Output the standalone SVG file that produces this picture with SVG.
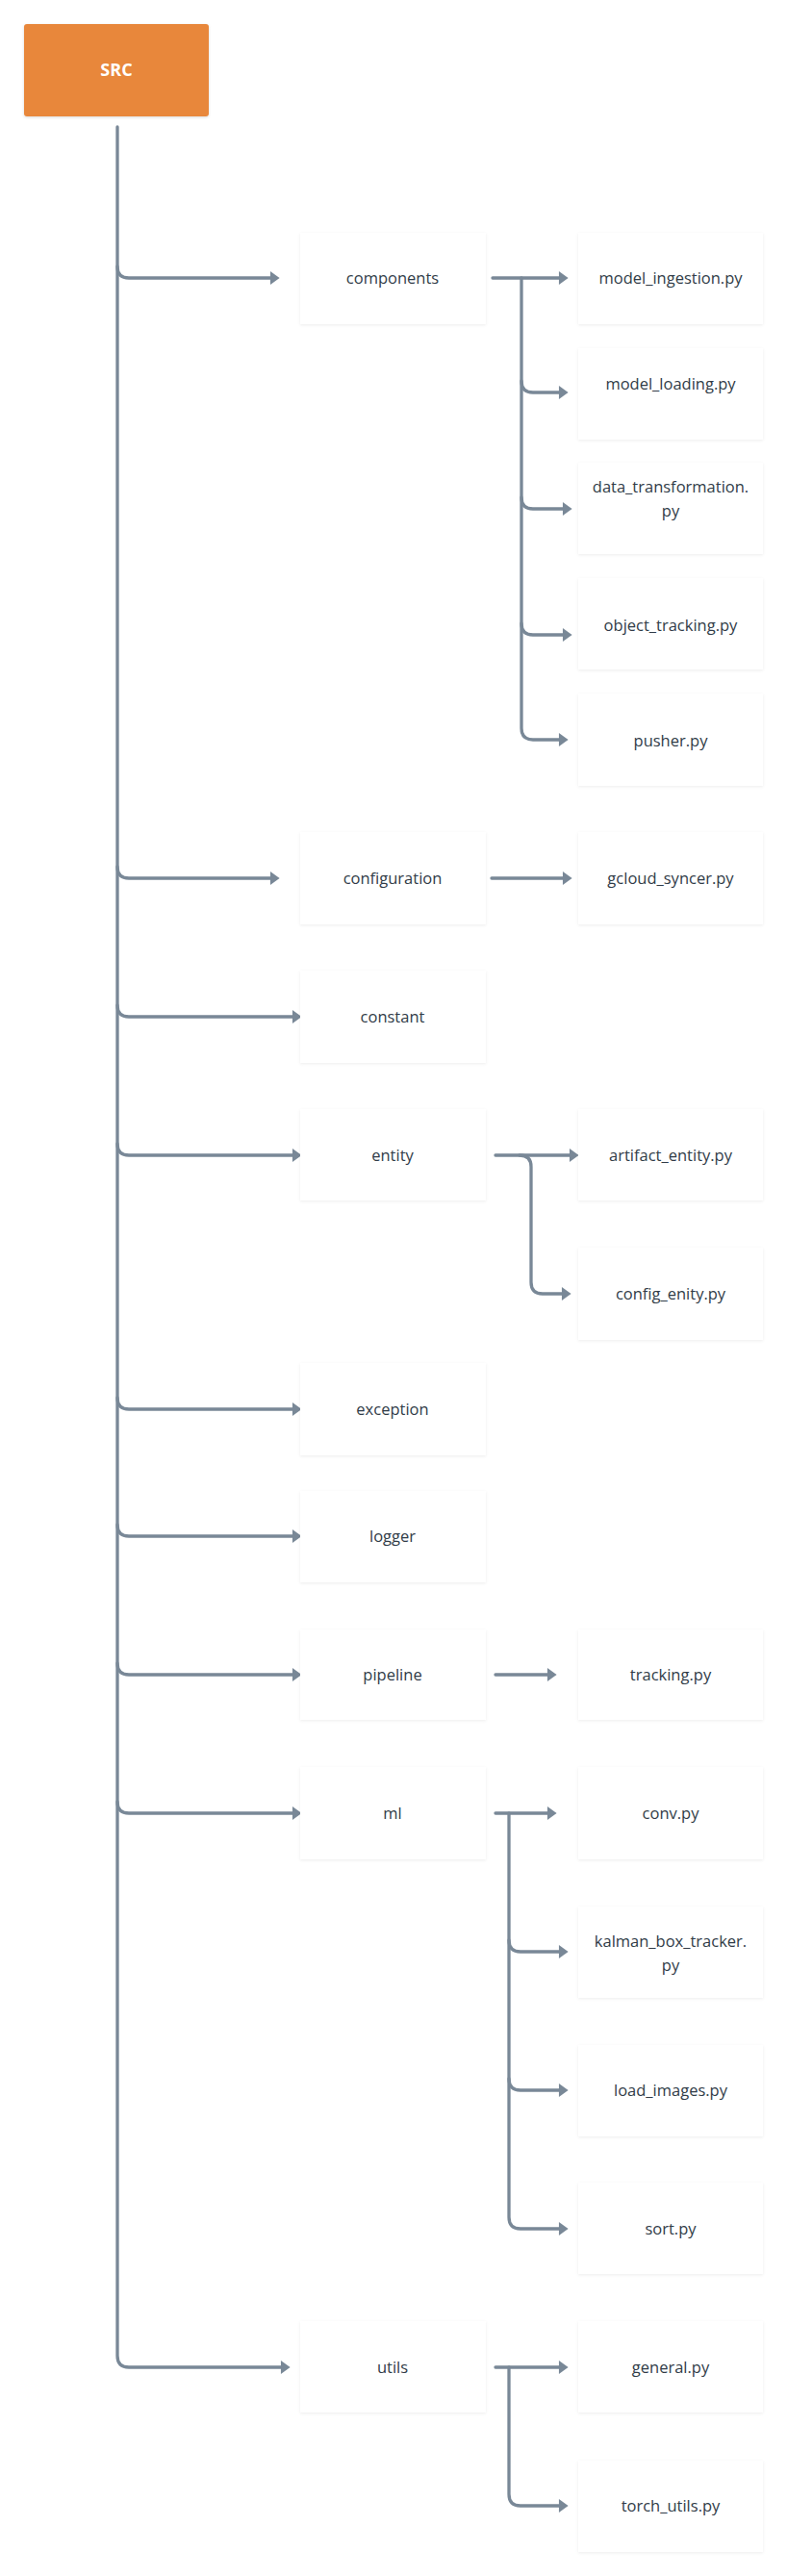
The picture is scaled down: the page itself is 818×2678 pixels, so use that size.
<svg xmlns="http://www.w3.org/2000/svg" width="818" height="2678" viewBox="0 0 818 2678">
<style>
.bg{fill:#ffffff}
.box{fill:#ffffff;filter:url(#sh)}
.src{fill:#E8873A;filter:url(#sh2)}
.t{font-family:"Open Sans","Noto Sans","Liberation Sans",sans-serif;font-size:16.5px;fill:#313c48;text-anchor:middle}
.ts{font-family:"Open Sans","Noto Sans","Liberation Sans",sans-serif;font-size:18px;font-weight:bold;fill:#ffffff;text-anchor:middle}
.c{fill:none;stroke:#798897;stroke-width:3.3;stroke-linecap:round;stroke-linejoin:round}
.a{marker-end:url(#ah)}
</style>
<defs>
<filter id="sh" x="-10%" y="-10%" width="120%" height="125%">
<feDropShadow dx="0" dy="1" stdDeviation="1.5" flood-color="#000" flood-opacity="0.07"/>
</filter>
<filter id="sh2" x="-10%" y="-10%" width="120%" height="125%">
<feDropShadow dx="0" dy="1" stdDeviation="1.5" flood-color="#000" flood-opacity="0.15"/>
</filter>
<marker id="ah" markerUnits="userSpaceOnUse" markerWidth="12" markerHeight="14" viewBox="0 0 10 13" refX="1" refY="6.5" orient="auto">
<path d="M0,0 L9,6.5 L0,13 z" fill="#798897"/>
</marker>
</defs>
<rect class="bg" x="0" y="0" width="818" height="2678"/>

<g id="connectors">
<path class="c a" d="M122 132 V 2449 Q122 2461 134 2461 H 293"/>
<path class="c a" d="M122 277 Q122 289 134 289 H 282"/>
<path class="c a" d="M122 901 Q122 913 134 913 H 282"/>
<path class="c a" d="M122 1045 Q122 1057 134 1057 H 305"/>
<path class="c a" d="M122 1189 Q122 1201 134 1201 H 305"/>
<path class="c a" d="M122 1453 Q122 1465 134 1465 H 305"/>
<path class="c a" d="M122 1585 Q122 1597 134 1597 H 305"/>
<path class="c a" d="M122 1729 Q122 1741 134 1741 H 305"/>
<path class="c a" d="M122 1873 Q122 1885 134 1885 H 305"/>

<path class="c a" d="M512 289 H 582"/>
<path class="c a" d="M542 289 V 757 Q542 769 554 769 H 582"/>
<path class="c a" d="M542 396 Q542 408 554 408 H 582"/>
<path class="c a" d="M542 517 Q542 529 554 529 H 586"/>
<path class="c a" d="M542 648 Q542 660 554 660 H 586"/>

<path class="c a" d="M511 913 H 586"/>

<path class="c a" d="M515 1201 H 593"/>
<path class="c a" d="M540 1201 Q552 1201 552 1213 V 1333 Q552 1345 564 1345 H 585"/>

<path class="c a" d="M515 1741 H 570"/>

<path class="c a" d="M515 1885 H 570"/>
<path class="c a" d="M529 1885 V 2305 Q529 2317 541 2317 H 582"/>
<path class="c a" d="M529 2017 Q529 2029 541 2029 H 582"/>
<path class="c a" d="M529 2161 Q529 2173 541 2173 H 582"/>

<path class="c a" d="M515 2461 H 582"/>
<path class="c a" d="M529 2461 V 2593 Q529 2605 541 2605 H 582"/>
</g>

<g id="src"><rect class="src" x="25" y="25" width="192" height="96" rx="3"/><text class="ts" x="121" y="79">SRC</text></g>

<g id="components"><rect class="box" x="312" y="242" width="193" height="95"/><text class="t" x="408" y="295">components</text></g>
<g id="model_ingestion"><rect class="box" x="601" y="242" width="192" height="95"/><text class="t" x="697" y="295">model_ingestion.py</text></g>
<g id="model_loading"><rect class="box" x="601" y="362" width="192" height="95"/><text class="t" x="697" y="405">model_loading.py</text></g>
<g id="data_transformation"><rect class="box" x="601" y="481" width="192" height="95"/><text class="t" x="697" y="512">data_transformation.</text><text class="t" x="697" y="537">py</text></g>
<g id="object_tracking"><rect class="box" x="601" y="601" width="192" height="95"/><text class="t" x="697" y="656">object_tracking.py</text></g>
<g id="pusher"><rect class="box" x="601" y="721" width="192" height="96"/><text class="t" x="697" y="776">pusher.py</text></g>

<g id="configuration"><rect class="box" x="312" y="865" width="193" height="96"/><text class="t" x="408" y="919">configuration</text></g>
<g id="gcloud_syncer"><rect class="box" x="601" y="865" width="192" height="96"/><text class="t" x="697" y="919">gcloud_syncer.py</text></g>

<g id="constant"><rect class="box" x="312" y="1009" width="193" height="96"/><text class="t" x="408" y="1063">constant</text></g>

<g id="entity"><rect class="box" x="312" y="1153" width="193" height="95"/><text class="t" x="408" y="1207">entity</text></g>
<g id="artifact_entity"><rect class="box" x="601" y="1153" width="192" height="95"/><text class="t" x="697" y="1207">artifact_entity.py</text></g>
<g id="config_enity"><rect class="box" x="601" y="1297" width="192" height="96"/><text class="t" x="697" y="1351">config_enity.py</text></g>

<g id="exception"><rect class="box" x="312" y="1417" width="193" height="96"/><text class="t" x="408" y="1471">exception</text></g>
<g id="logger"><rect class="box" x="312" y="1550" width="193" height="95"/><text class="t" x="408" y="1603">logger</text></g>

<g id="pipeline"><rect class="box" x="312" y="1694" width="193" height="94"/><text class="t" x="408" y="1747">pipeline</text></g>
<g id="tracking"><rect class="box" x="601" y="1694" width="192" height="94"/><text class="t" x="697" y="1747">tracking.py</text></g>

<g id="ml"><rect class="box" x="312" y="1837" width="193" height="96"/><text class="t" x="408" y="1891">ml</text></g>
<g id="conv"><rect class="box" x="601" y="1837" width="192" height="96"/><text class="t" x="697" y="1891">conv.py</text></g>
<g id="kalman_box_tracker"><rect class="box" x="601" y="1982" width="192" height="95"/><text class="t" x="697" y="2024">kalman_box_tracker.</text><text class="t" x="697" y="2049">py</text></g>
<g id="load_images"><rect class="box" x="601" y="2126" width="192" height="95"/><text class="t" x="697" y="2179">load_images.py</text></g>
<g id="sort"><rect class="box" x="601" y="2269" width="192" height="95"/><text class="t" x="697" y="2323">sort.py</text></g>

<g id="utils"><rect class="box" x="312" y="2413" width="193" height="95"/><text class="t" x="408" y="2467">utils</text></g>
<g id="general"><rect class="box" x="601" y="2413" width="192" height="95"/><text class="t" x="697" y="2467">general.py</text></g>
<g id="torch_utils"><rect class="box" x="601" y="2558" width="192" height="95"/><text class="t" x="697" y="2611">torch_utils.py</text></g>
</svg>
